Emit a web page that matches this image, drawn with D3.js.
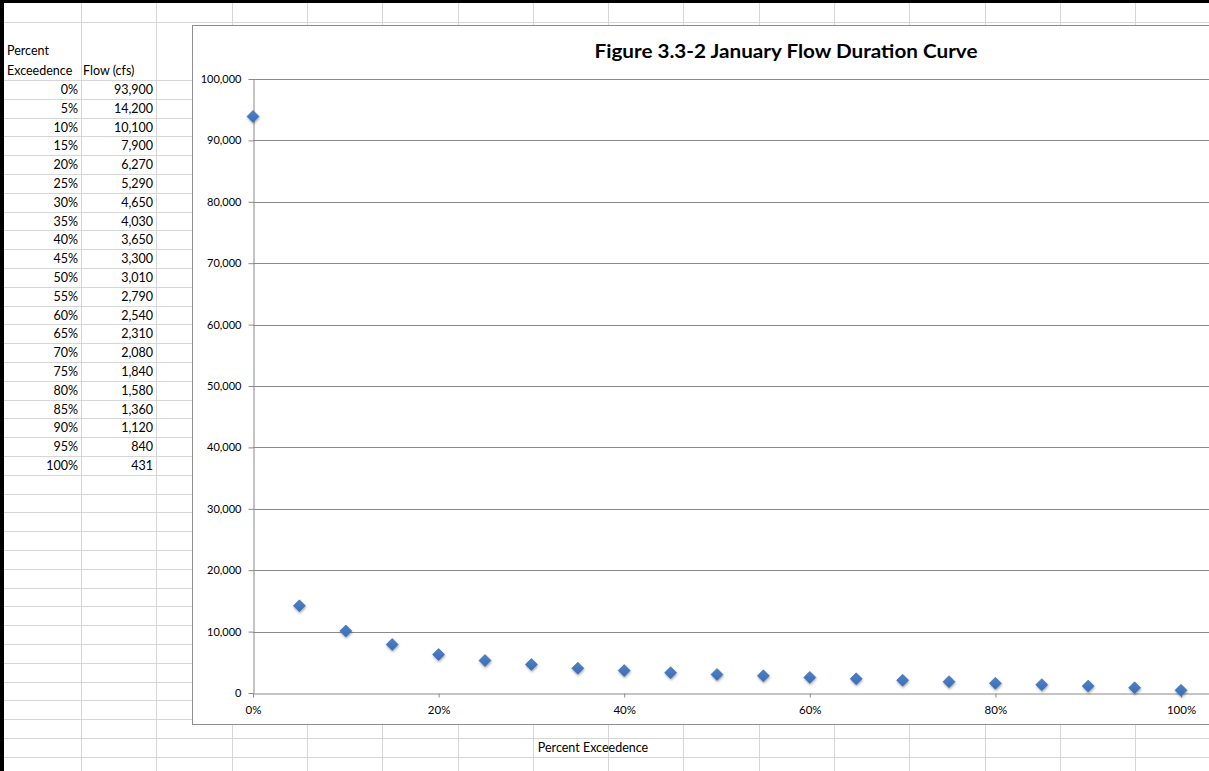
<!DOCTYPE html>
<html>
<head>
<meta charset="utf-8">
<script src="https://cdn.jsdelivr.net/npm/d3@7"></script>
<style>
  html, body { margin: 0; padding: 0; background: #fff; overflow: hidden; }
  svg { display: block; }
  text { font-family: Lato, "Open Sans", "Liberation Sans", sans-serif; fill: #000; }
</style>
</head>
<body>
<svg id="sheet" width="1209" height="771"></svg>
<script>
// January flow duration data (percent of time a flow is equalled or exceeded)
const percentExceedence = [0, 5, 10, 15, 20, 25, 30, 35, 40, 45, 50, 55, 60, 65, 70, 75, 80, 85, 90, 95, 100];
const flowCfs = [93900, 14200, 10100, 7900, 6270, 5290, 4650, 4030, 3650, 3300, 3010, 2790, 2540, 2310, 2080, 1840, 1580, 1360, 1120, 840, 431];
const yTickValues = [0, 10000, 20000, 30000, 40000, 50000, 60000, 70000, 80000, 90000, 100000];
const xTickValues = [0, 0.2, 0.4, 0.6, 0.8, 1.0];
const chartTitle = "Figure 3.3-2 January Flow Duration Curve";
const xAxisTitle = "Percent Exceedence";
const tableHeaders = [["Percent", "Exceedence"], ["Flow (cfs)"]];

const W = 1209, H = 771;
const svg = d3.select("#sheet");

// ---- worksheet background grid ----
const colW = 75.3, firstCol = 81;
const rowH = 18.8, firstDataRow = 80;
const grid = svg.append("g").attr("stroke", "#d6d6d6").attr("stroke-width", 1).attr("shape-rendering", "crispEdges");
for (let x = firstCol; x < W; x += colW) {
  grid.append("line").attr("x1", Math.round(x) + 0.5).attr("x2", Math.round(x) + 0.5).attr("y1", 0).attr("y2", H);
}
const rowLines = [22];
for (let y = firstDataRow; y < H; y += rowH) rowLines.push(y);
rowLines.forEach(y => {
  grid.append("line").attr("x1", 0).attr("x2", W).attr("y1", Math.round(y) + 0.5).attr("y2", Math.round(y) + 0.5);
});

// ---- data table in columns A and B ----
const table = svg.append("g").attr("font-size", 12.5);
table.append("text").attr("x", 7).attr("y", 55).text(tableHeaders[0][0]);
table.append("text").attr("x", 7).attr("y", 75).text(tableHeaders[0][1]);
table.append("text").attr("x", 83).attr("y", 75).text(tableHeaders[1][0]);
const fmt = d3.format(",");
percentExceedence.forEach((p, i) => {
  const yb = firstDataRow + i * rowH + 14;
  table.append("text").attr("x", 78).attr("y", yb).attr("text-anchor", "end").text(p + "%");
  table.append("text").attr("x", 153).attr("y", yb).attr("text-anchor", "end").text(fmt(flowCfs[i]));
});

// ---- embedded chart object ----
const chartBox = { x: 192.5, y: 25.5, w: 1300, h: 699 };
svg.append("rect")
  .attr("x", chartBox.x).attr("y", chartBox.y)
  .attr("width", chartBox.w).attr("height", chartBox.h)
  .attr("fill", "#fff").attr("stroke", "#8e8e8e").attr("stroke-width", 1);

const plot = { left: 253, top: 79, bottom: 693 };
const x = d3.scaleLinear().domain([0, 1.2]).range([plot.left, plot.left + 928 * 1.2]);
const y = d3.scaleLinear().domain([0, 100000]).range([plot.bottom, plot.top]);

// horizontal gridlines
svg.append("g")
  .selectAll("line")
  .data(yTickValues.filter(v => v > 0))
  .join("line")
  .attr("x1", plot.left).attr("x2", W)
  .attr("y1", d => Math.round(y(d)) + 0.5).attr("y2", d => Math.round(y(d)) + 0.5)
  .attr("stroke", "#8a8a8a").attr("stroke-width", 1)
  .attr("shape-rendering", "crispEdges");

// y axis
const yAxis = svg.append("g")
  .attr("transform", `translate(${plot.left + 0.5},0)`)
  .call(d3.axisLeft(y).tickValues(yTickValues).tickFormat(d3.format(",")).tickSizeInner(5).tickSizeOuter(0).tickPadding(7));
yAxis.select(".domain").attr("stroke", "#8a8a8a");
yAxis.selectAll(".tick line").attr("stroke", "#8a8a8a");
yAxis.selectAll(".tick text").attr("font-size", 11).attr("font-family", "Lato, sans-serif").attr("fill", "#000");

// x axis (baseline runs on past the last labelled tick)
const xAxis = svg.append("g")
  .attr("transform", `translate(0,${plot.bottom + 0.5})`)
  .call(d3.axisBottom(x).tickValues(xTickValues).tickFormat(d3.format(".0%")).tickSizeInner(4).tickSizeOuter(0).tickPadding(8));
xAxis.select(".domain").attr("stroke", "#8a8a8a");
xAxis.selectAll(".tick line").attr("stroke", "#8a8a8a");
xAxis.selectAll(".tick text").attr("font-size", 11.5).attr("font-family", "Lato, sans-serif").attr("fill", "#000");

// marker shadow
const defs = svg.append("defs");
const f = defs.append("filter").attr("id", "mshadow").attr("x", "-50%").attr("y", "-50%").attr("width", "200%").attr("height", "200%");
f.append("feDropShadow").attr("dx", 0.5).attr("dy", 1.5).attr("stdDeviation", 1).attr("flood-color", "#000").attr("flood-opacity", 0.35);
const grad = defs.append("linearGradient").attr("id", "mfill").attr("x1", 0).attr("y1", 0).attr("x2", 0).attr("y2", 1);
grad.append("stop").attr("offset", "0%").attr("stop-color", "#4d82c8");
grad.append("stop").attr("offset", "100%").attr("stop-color", "#3a6db5");

// diamond markers
const r = 6;
const diamond = `M0,${-r}L${r},0L0,${r}L${-r},0Z`;
svg.append("g")
  .selectAll("path")
  .data(percentExceedence.map((p, i) => ({ p: p / 100, q: flowCfs[i] })))
  .join("path")
  .attr("d", diamond)
  .attr("transform", d => `translate(${x(d.p)},${y(d.q)})`)
  .attr("fill", "url(#mfill)")
  .attr("stroke", "#3866a8").attr("stroke-width", 0.6)
  .attr("filter", "url(#mshadow)");

// chart title
svg.append("text")
  .attr("x", 786).attr("y", 58)
  .attr("text-anchor", "middle")
  .attr("font-size", 18).attr("font-weight", "bold")
  .attr("textLength", 383).attr("lengthAdjust", "spacingAndGlyphs")
  .text(chartTitle);

// axis title
svg.append("text")
  .attr("x", 593).attr("y", 752)
  .attr("text-anchor", "middle")
  .attr("font-size", 12.5)
  .text(xAxisTitle);

// worksheet edge
svg.append("rect").attr("x", 0).attr("y", 0).attr("width", W).attr("height", 3).attr("fill", "#000");
svg.append("rect").attr("x", 0).attr("y", 0).attr("width", 4).attr("height", H).attr("fill", "#000");
</script>
</body>
</html>
